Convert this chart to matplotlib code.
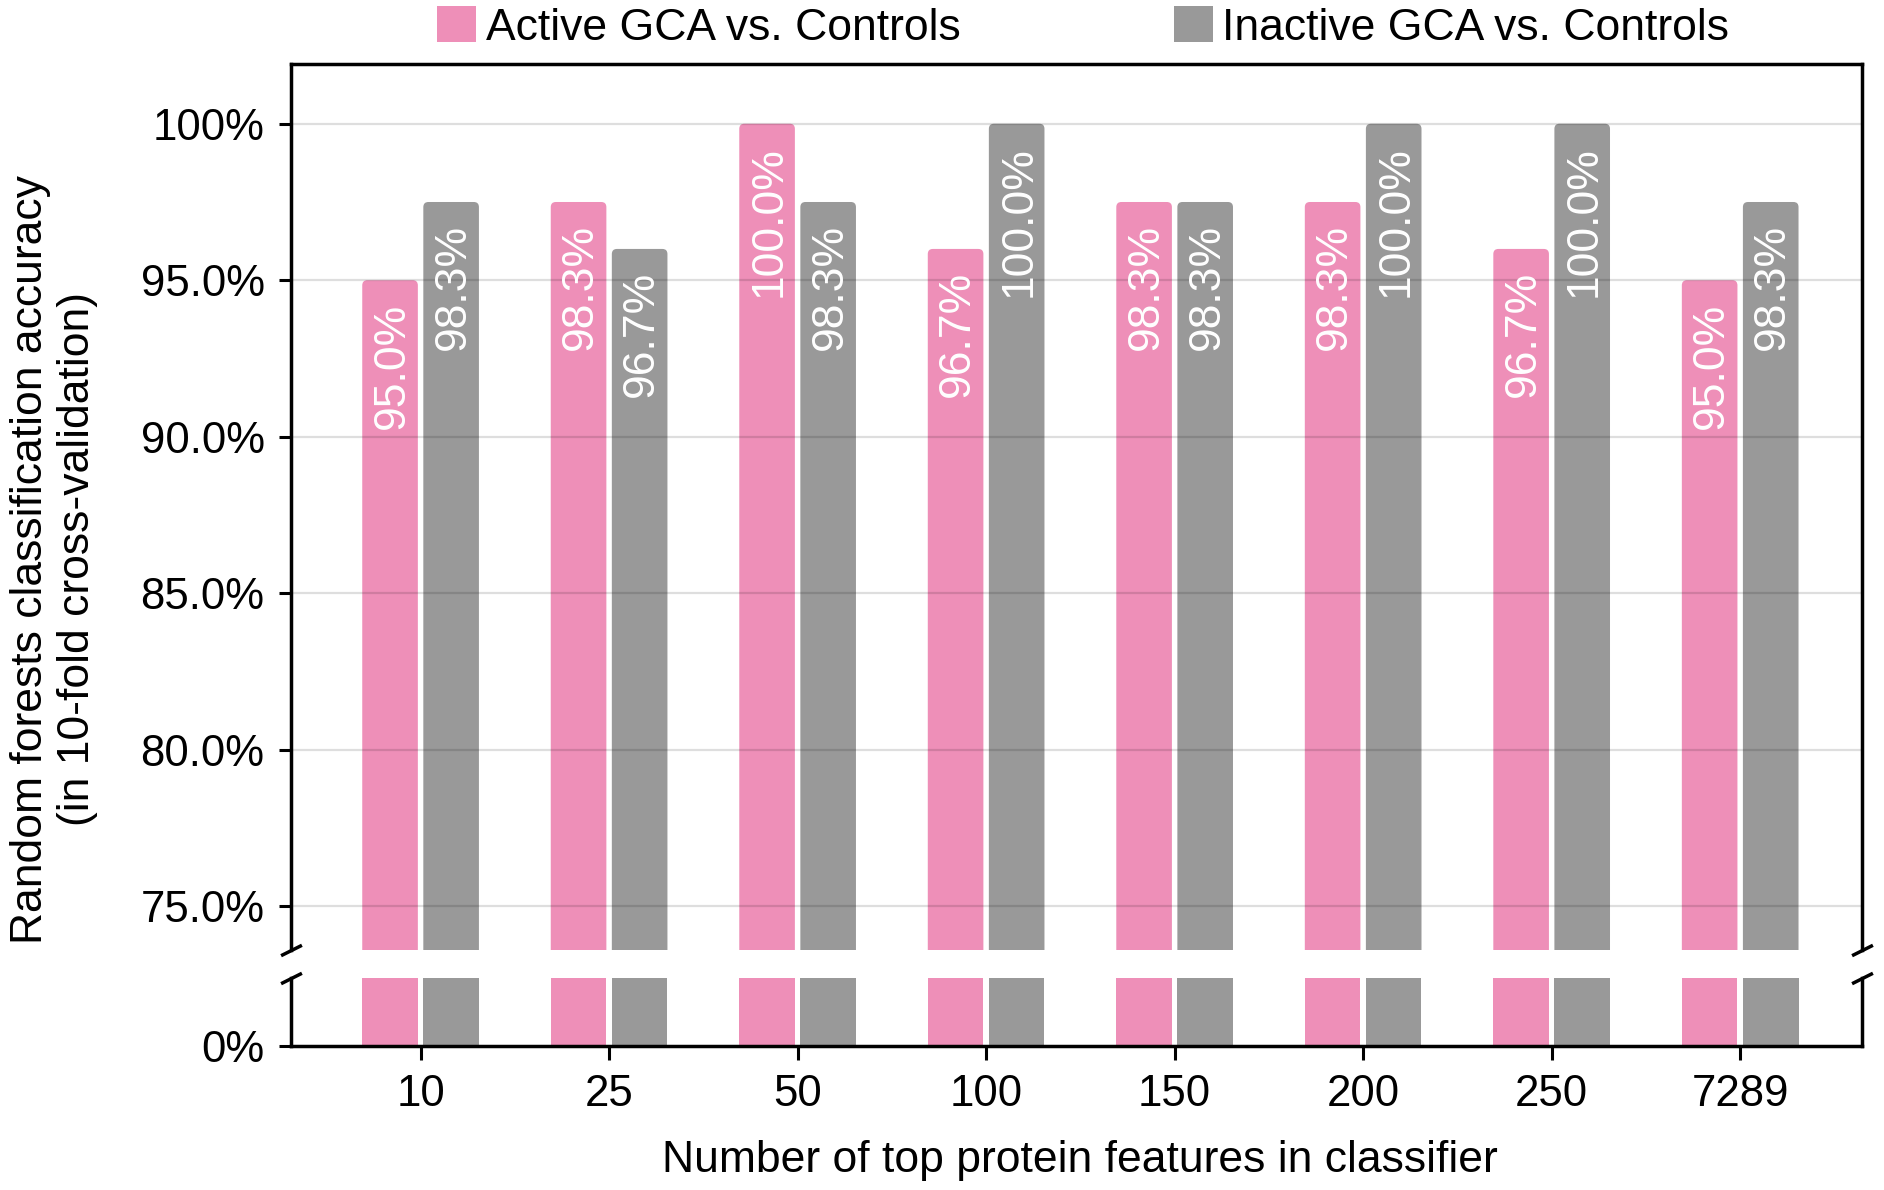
import matplotlib
matplotlib.use("Agg")
import matplotlib.pyplot as plt
from matplotlib.patches import FancyBboxPatch, Patch
import numpy as np

plt.rcParams['font.family'] = ['Liberation Sans', 'DejaVu Sans']

categories = ["10", "25", "50", "100", "150", "200", "250", "7289"]
series_names = ["Active GCA vs. Controls", "Inactive GCA vs. Controls"]
# bar heights as drawn in the picture
active_heights = [95.0, 97.5, 100.0, 96.0, 97.5, 97.5, 96.0, 95.0]
inactive_heights = [97.5, 96.0, 97.5, 100.0, 97.5, 100.0, 100.0, 97.5]
# value labels printed on the bars
active_labels = ["95.0%", "98.3%", "100.0%", "96.7%", "98.3%", "98.3%", "96.7%", "95.0%"]
inactive_labels = ["98.3%", "96.7%", "98.3%", "100.0%", "98.3%", "100.0%", "100.0%", "98.3%"]
ytick_values = [75, 80, 85, 90, 95, 100]
ytick_labels = ["75.0%", "80.0%", "85.0%", "90.0%", "95.0%", "100%"]

PINK = "#EE8FB8"
GREY = "#999999"
FS = 32
FS_TICK = 31.5

W, H = 18.84, 11.9
fig = plt.figure(figsize=(W, H), dpi=100)
top_rect = [0.1544, 0.2017, 0.8341, 0.7448]
bot_rect = [0.1544, 0.1210, 0.8341, 0.0572]
ax_top = fig.add_axes(top_rect)
ax_bot = fig.add_axes(bot_rect)

x = np.arange(len(categories))
bw = 0.295
off = 0.162
xlim = (-0.688, 7.648)
ylim_top = (73.6, 101.92)
ylim_bot = (0, 2.17)

for ax, yl in ((ax_top, ylim_top), (ax_bot, ylim_bot)):
    ax.set_xlim(*xlim)
    ax.set_ylim(*yl)
    for s in ax.spines.values():
        s.set_linewidth(2.5)

# aspect for rounded tops in the upper panel
xpp = (xlim[1] - xlim[0]) / (top_rect[2] * W * 100)
ypp = (ylim_top[1] - ylim_top[0]) / (top_rect[3] * H * 100)
asp = ypp / xpp

for heights, col, dx in ((active_heights, PINK, -off), (inactive_heights, GREY, off)):
    bars = ax_top.bar(x + dx, heights, width=bw, color=col, zorder=1)
    for r in list(bars):
        fb = FancyBboxPatch((r.get_x(), r.get_y()), r.get_width(), r.get_height(),
                            boxstyle="round,pad=0,rounding_size=0.027",
                            mutation_aspect=asp, fc=col, ec='none', zorder=1)
        ax_top.add_patch(fb)
        r.set_visible(False)
    ax_bot.bar(x + dx, heights, width=bw, color=col, zorder=1)

for labels, heights, dx in ((active_labels, active_heights, -off), (inactive_labels, inactive_heights, off)):
    for xi, h, lab in zip(x, heights, labels):
        ax_top.annotate(lab, xy=(xi + dx, h), xytext=(1.5, -16), textcoords='offset points',
                        rotation=90, ha='center', va='top', color='white', fontsize=FS, zorder=4)

# grid
ax_top.set_yticks(ytick_values)
ax_top.set_yticklabels(ytick_labels)
ax_top.set_axisbelow(False)
ax_top.yaxis.grid(True, color='black', alpha=0.13, linewidth=1.6, zorder=2)
ax_top.xaxis.grid(False)
ax_top.spines['bottom'].set_visible(False)
ax_top.tick_params(axis='x', bottom=False, labelbottom=False)
ax_top.tick_params(axis='y', length=9, width=2.2, labelsize=FS_TICK, pad=10)

ax_bot.spines['top'].set_visible(False)
ax_bot.set_yticks([0])
ax_bot.set_yticklabels(["0%"])
ax_bot.set_xticks(x)
ax_bot.set_xticklabels(categories)
ax_bot.tick_params(axis='y', length=9, width=2.2, labelsize=FS_TICK, pad=10)
ax_bot.tick_params(axis='x', length=10, width=2.2, labelsize=FS_TICK, pad=10)

# break marks
kw = dict(marker=[(-1, -0.5), (1, 0.5)], markersize=15, linestyle='none',
          color='k', mec='k', mew=2.5, clip_on=False)
ax_top.plot([0, 1], [0, 0], transform=ax_top.transAxes, **kw)
ax_bot.plot([0, 1], [1, 1], transform=ax_bot.transAxes, **kw)

# legend
handles = [Patch(facecolor=PINK, edgecolor='none'), Patch(facecolor=GREY, edgecolor='none')]
fig.legend(handles=handles, labels=series_names, loc='center', bbox_to_anchor=(0.575, 0.977),
           ncol=2, frameon=False, fontsize=FS, handlelength=0.87, handleheight=0.87,
           handletextpad=0.22, columnspacing=4.8, borderpad=0, borderaxespad=0)

fig.text(0.0287, 0.530, "Random forests classification accuracy\n(in 10-fold cross-validation)",
         rotation=90, ha='center', va='center', fontsize=FS, linespacing=1.2,
         multialignment='center')
fig.text(0.573, 0.025, "Number of top protein features in classifier",
         ha='center', va='center', fontsize=FS)

fig.savefig("out.png", dpi=100)
